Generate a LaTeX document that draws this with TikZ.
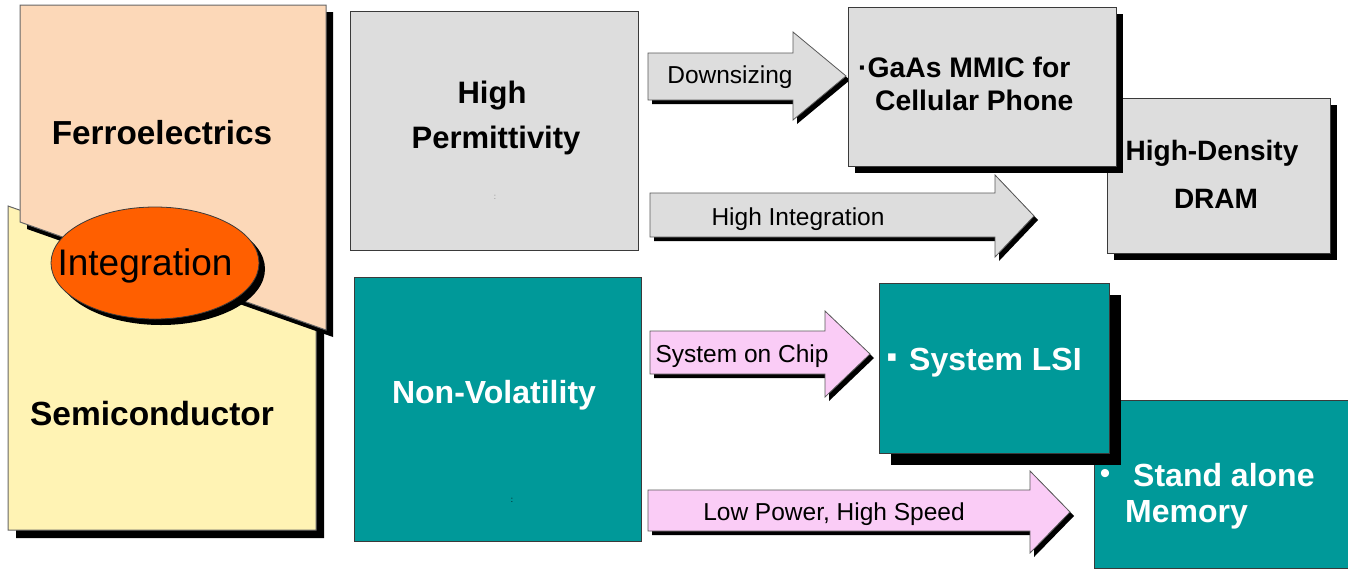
\documentclass[tikz,border=0pt]{standalone}
\usepackage{fontspec}
\setmainfont{Liberation Sans}
\newfontfamily\symfont{DejaVu Sans}
\usetikzlibrary{shapes.geometric,shadows}

\definecolor{panelgray}{HTML}{DDDDDD}
\definecolor{tealbox}{HTML}{009999}
\definecolor{ferro}{HTML}{FCD8B8}
\definecolor{semi}{HTML}{FFF3B4}
\definecolor{pinkarrow}{HTML}{FACCF6}
\definecolor{integ}{HTML}{FF5F00}
\definecolor{edge}{HTML}{3A3A3A}

\tikzset{
  shade box/.style={drop shadow={shadow xshift=#1pt, shadow yshift=-#1pt, opacity=1, fill=black}},
  outline/.style={draw=edge, line width=1pt},
  panel/.style={outline, anchor=north west, inner sep=0pt},
  boldtxt/.style={font={\fontsize{#1}{#1}\selectfont\bfseries}, inner sep=0pt},
  plaintxt/.style={font={\fontsize{#1}{#1}\selectfont}, inner sep=0pt},
  arrowtxt/.style={plaintxt=24.5, anchor=base},
  tick/.style={font={\fontsize{8}{8}\selectfont}, text=#1, inner sep=0pt},
}

% block arrow: fill, tail x, neck x, tip x, shaft top, shaft bottom, head top, head bottom
\newcommand\blockarrow[8]{%
  \filldraw[outline, draw=gray!70!black, line width=0.8pt, fill=#1, shade box=4]
    (#2,#5) -- (#3,#5) -- (#3,#7) -- (#4,{(#7+#8)/2}) -- (#3,#8) -- (#3,#6) -- (#2,#6) -- cycle;}

\begin{document}
\begin{tikzpicture}[x=1pt,y=-1pt]
\useasboundingbox (0,0) rectangle (1348,571);

% ---- left panel: semiconductor, ferroelectrics and their overlap
\filldraw[outline, draw=gray!80!black, fill=semi, shade box=8]
  (8,206) -- (316,314) -- (316,530) -- (8,530) -- cycle;
\filldraw[outline, draw=gray!80!black, fill=ferro, shade box=7]
  (20,5) -- (326,5) -- (326,330) -- (20,222) -- cycle;
\node[ellipse, outline, line width=0.8pt, fill=integ, minimum width=208pt, minimum height=112pt,
      inner sep=0pt, shade box=6] (integ) at (155,263) {};
\node[boldtxt=33.3, anchor=base] (ferrotxt) at (162,144) {Ferroelectrics};
\node[boldtxt=33.5, anchor=base] (semitxt) at (152,425) {Semiconductor};
\node[plaintxt=37, anchor=base] (integtxt) at (145,275) {Integration};

% ---- property boxes
\node[panel, fill=panelgray, minimum width=288pt, minimum height=239pt] (hp) at (350,11) {};
\node[boldtxt=31, anchor=base] (hp1) at (492,103) {High};
\node[boldtxt=31, anchor=base] (hp2) at (496,148) {Permittivity};
\node[tick=gray] (hpdot) at (495,197) {:};

\node[panel, fill=tealbox, minimum width=287pt, minimum height=264pt] (nv) at (354,277) {};
\node[boldtxt=32, anchor=base, text=white] (nvtxt) at (494,403) {Non-Volatility};
\node[tick=black] (nvdot) at (512,500) {:};

% ---- arrows
\blockarrow{panelgray}{648}{793}{846}{53}{100}{32}{120}
\node[arrowtxt] (a1) at (730,83) {Downsizing};
\blockarrow{panelgray}{650}{995}{1034}{193}{237}{175}{257}
\node[arrowtxt] (a2) at (798,225) {High Integration};
\blockarrow{pinkarrow}{650}{825}{870}{331}{374}{311}{397}
\node[arrowtxt] (a3) at (742,362) {System on Chip};
\blockarrow{pinkarrow}{648}{1030}{1070}{490}{531}{471}{553}
\node[arrowtxt] (a4) at (834,520) {Low Power, High Speed};

% ---- application boxes (upper row)
\node[panel, fill=panelgray, minimum width=223pt, minimum height=155pt, shade box=6] (dram) at (1107,98) {};
\node[boldtxt=28, anchor=base] (dram1) at (1212,160) {High-Density};
\node[boldtxt=28, anchor=base] (dram2) at (1216,208) {DRAM};

\node[panel, fill=panelgray, minimum width=268pt, minimum height=159pt, shade box=6] (gaas) at (848,7) {};
\node[boldtxt=28.3, anchor=base west] (gaas1) at (858,77) {·GaAs MMIC for};
\node[boldtxt=28.3, anchor=base west] (gaas2) at (875,110) {Cellular Phone};

% ---- application boxes (lower row)
\node[panel, fill=tealbox, minimum width=270pt, minimum height=168pt] (mem) at (1094,400) {};
\node[plaintxt=30, anchor=center, text=white] (membul) at (1105,476) {•};
\node[boldtxt=32, anchor=base west, text=white] (mem1) at (1133,486) {Stand alone};
\node[boldtxt=32, anchor=base west, text=white] (mem2) at (1125,522) {Memory};

\node[panel, fill=tealbox, minimum width=230pt, minimum height=170pt, shade box=11] (lsi) at (879,283) {};
\node[font={\fontsize{15}{15}\selectfont\symfont}, inner sep=0pt, text=white] (lsibul) at (892,358) {▪};
\node[boldtxt=32, anchor=base west, text=white] (lsitxt) at (909,370) {System LSI};
\end{tikzpicture}
\end{document}
